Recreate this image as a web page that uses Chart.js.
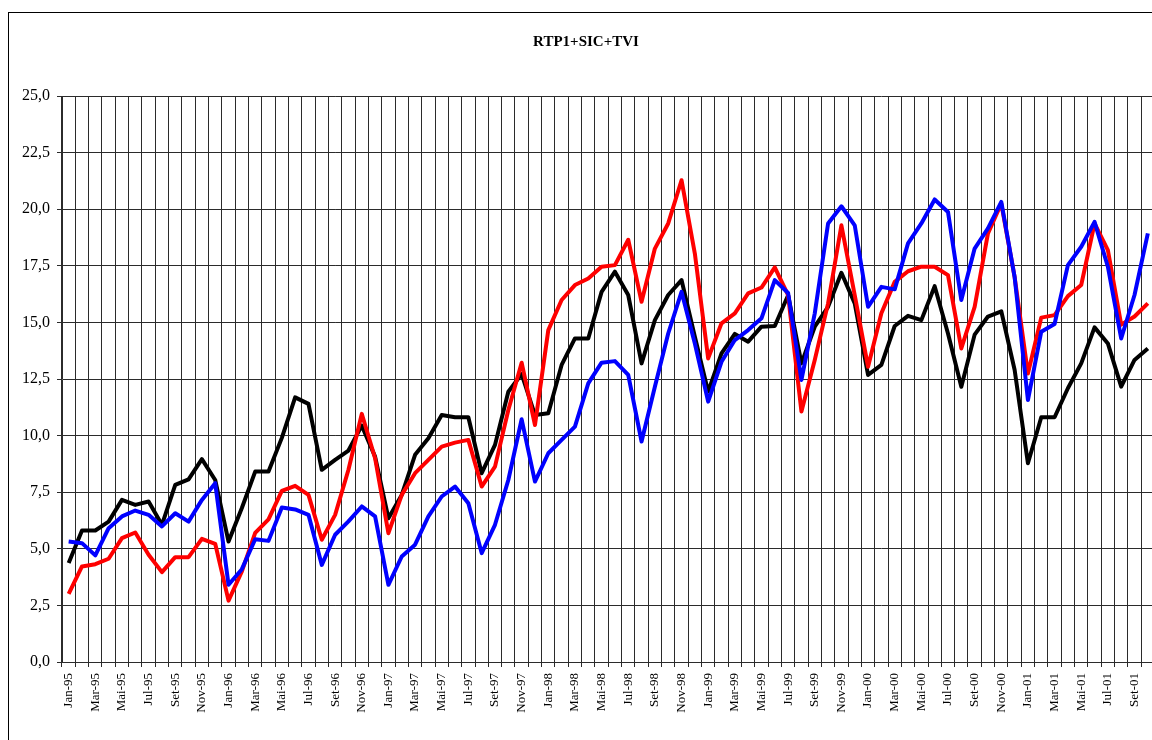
<!DOCTYPE html>
<html>
<head>
<meta charset="utf-8">
<script src="https://cdn.jsdelivr.net/npm/chart.js@4"></script>
<style>
  html, body { margin: 0; padding: 0; overflow: hidden; background: #fff; }
  canvas { display: block; }
</style>
</head>
<body>
<canvas id="myChart" width="1170" height="740"></canvas>
<script>
// Categories: monthly, Jan-95 .. Out-01
const monthNames = ['Jan', 'Fev', 'Mar', 'Abr', 'Mai', 'Jun', 'Jul', 'Ago', 'Set', 'Out', 'Nov', 'Dez'];
const years = ['95', '96', '97', '98', '99', '00', '01'];
const categories = [];
years.forEach(y => monthNames.forEach(m => categories.push(m + '-' + y)));
categories.length = 82;

// Series values
const blackSeries = [
  4.37, 5.81, 5.81, 6.20, 7.16, 6.94, 7.09, 6.06, 7.82, 8.07, 8.96, 8.04,
  5.32, 6.80, 8.41, 8.41, 9.90, 11.69, 11.40, 8.49, 8.93, 9.34, 10.44, 9.07,
  6.35, 7.38, 9.15, 9.88, 10.91, 10.81, 10.81, 8.34, 9.59, 11.94, 12.72, 10.91,
  10.99, 13.12, 14.29, 14.29, 16.35, 17.24, 16.21, 13.19, 15.10, 16.21, 16.87, 14.37,
  11.94, 13.63, 14.49, 14.15, 14.81, 14.84, 16.20, 13.19, 14.81, 15.69, 17.19, 15.84,
  12.68, 13.12, 14.84, 15.29, 15.10, 16.60, 14.51, 12.16, 14.46, 15.26, 15.49, 12.91,
  8.78, 10.81, 10.81, 12.09, 13.19, 14.78, 14.07, 12.16, 13.34, 13.85
];
const redSeries = [
  3.01, 4.22, 4.32, 4.56, 5.47, 5.72, 4.74, 3.97, 4.63, 4.63, 5.44, 5.22,
  2.71, 4.00, 5.70, 6.30, 7.56, 7.78, 7.38, 5.40, 6.50, 8.49, 10.96, 9.00,
  5.69, 7.38, 8.34, 8.93, 9.51, 9.69, 9.81, 7.75, 8.63, 11.13, 13.22, 10.47,
  14.66, 15.99, 16.65, 16.94, 17.46, 17.53, 18.65, 15.91, 18.26, 19.37, 21.28, 18.04,
  13.41, 14.96, 15.40, 16.28, 16.54, 17.43, 16.20, 11.06, 13.34, 15.84, 19.29, 16.21,
  13.04, 15.40, 16.79, 17.26, 17.46, 17.46, 17.09, 13.85, 15.69, 18.93, 20.25, 17.01,
  12.74, 15.21, 15.32, 16.16, 16.65, 19.37, 18.19, 14.90, 15.26, 15.84
];
const blueSeries = [
  5.32, 5.25, 4.71, 5.91, 6.43, 6.69, 6.50, 5.99, 6.57, 6.20, 7.16, 7.90,
  3.41, 4.10, 5.42, 5.35, 6.82, 6.74, 6.50, 4.29, 5.62, 6.21, 6.87, 6.43,
  3.41, 4.66, 5.18, 6.43, 7.31, 7.75, 7.01, 4.81, 6.06, 8.04, 10.72, 7.97,
  9.22, 9.81, 10.40, 12.31, 13.22, 13.29, 12.68, 9.74, 12.16, 14.51, 16.35, 14.07,
  11.50, 13.26, 14.22, 14.66, 15.18, 16.87, 16.30, 12.46, 15.40, 19.37, 20.13, 19.29,
  15.69, 16.57, 16.46, 18.49, 19.37, 20.43, 19.88, 15.99, 18.26, 19.15, 20.32, 17.01,
  11.57, 14.59, 14.93, 17.53, 18.34, 19.44, 17.46, 14.29, 16.21, 18.93
];

const serif = 'Liberation Serif, Times New Roman, serif';
const gridColor = '#2b2b2b';

// Frame around the whole chart and the title text
const framePlugin = {
  id: 'frame',
  beforeDraw(chart) {
    const { ctx, width, height } = chart;
    ctx.save();
    ctx.fillStyle = '#fff';
    ctx.fillRect(0, 0, width, height);
    ctx.strokeStyle = '#000';
    ctx.lineWidth = 1;
    ctx.strokeRect(8.5, 12.5, width + 40, height + 40);
    ctx.restore();
  },
  afterDraw(chart) {
    const { ctx } = chart;
    ctx.save();
    ctx.font = `bold 15px ${serif}`;
    ctx.fillStyle = '#000';
    ctx.textAlign = 'center';
    ctx.textBaseline = 'middle';
    ctx.fillText('RTP1+SIC+TVI', 586, 42);
    ctx.restore();
  }
};

const config = {
  type: 'line',
  data: {
    labels: categories,
    datasets: [
      { label: 'Série 1', data: blackSeries, borderColor: '#000000', order: 2 },
      { label: 'Série 2', data: redSeries, borderColor: '#ff0000', order: 1 },
      { label: 'Série 3', data: blueSeries, borderColor: '#0000ff', order: 0 }
    ]
  },
  options: {
    responsive: false,
    animation: false,
    layout: { padding: { top: 96, right: 15.5, bottom: 18, left: 0 } },
    elements: {
      line: { borderWidth: 4, tension: 0, borderJoinStyle: 'round', fill: false },
      point: { radius: 0, hoverRadius: 0 }
    },
    plugins: {
      legend: { display: false },
      tooltip: { enabled: false }
    },
    scales: {
      x: {
        offset: true,
        grid: { offset: true, color: gridColor, tickLength: 5 },
        border: { color: gridColor },
        ticks: {
          autoSkip: false,
          minRotation: 90,
          maxRotation: 90,
          padding: 6,
          color: '#000',
          font: { family: serif, size: 13 },
          callback: (v, i) => (i % 2 === 0 ? categories[i] : '')
        },
        afterFit(scale) { scale.height = 60; }
      },
      y: {
        min: 0,
        max: 25,
        grid: { color: gridColor, tickLength: 5 },
        border: { color: gridColor },
        ticks: {
          stepSize: 2.5,
          padding: 7,
          color: '#000',
          font: { family: serif, size: 16 },
          callback: v => v.toFixed(1).replace('.', ',')
        },
        afterFit(scale) { scale.width = 62; }
      }
    }
  },
  plugins: [framePlugin]
};

new Chart(document.getElementById('myChart'), config);
</script>
</body>
</html>
